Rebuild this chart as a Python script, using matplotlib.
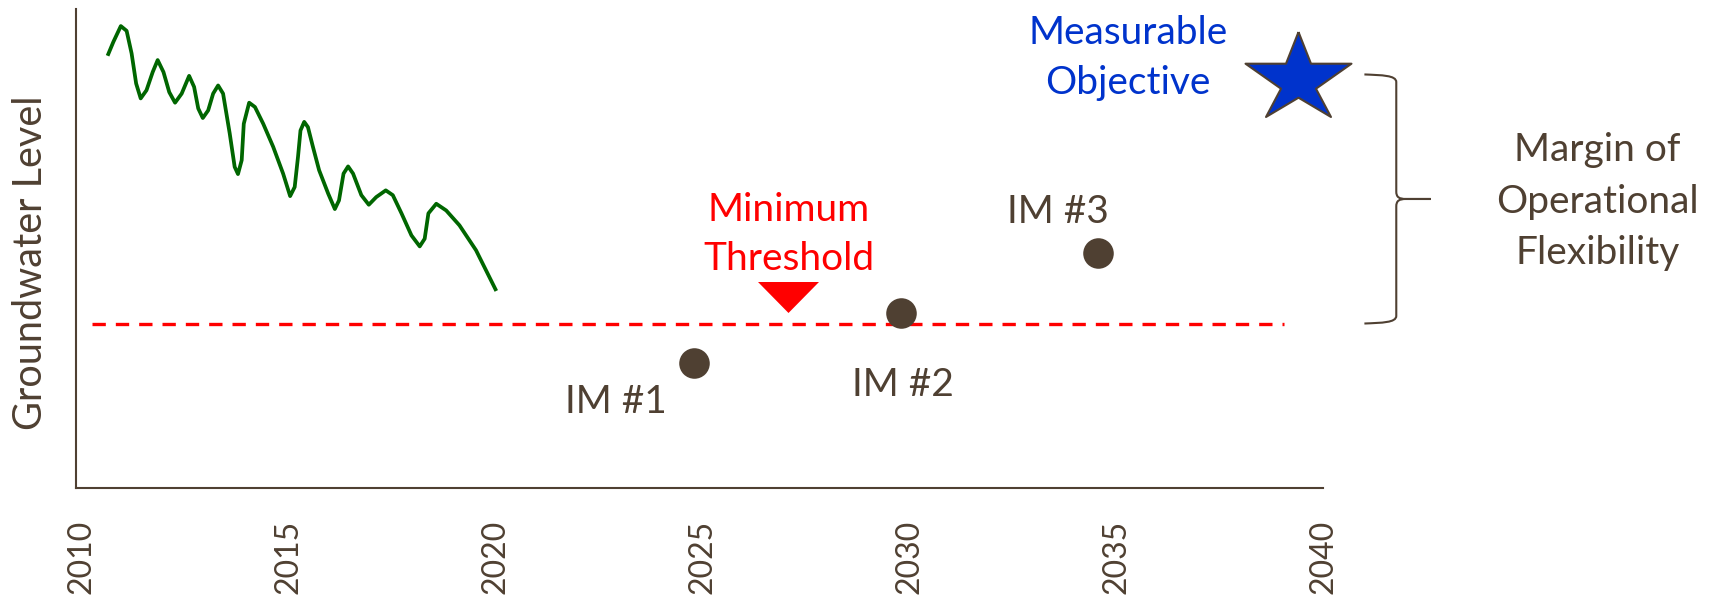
import matplotlib
matplotlib.use("Agg")
import matplotlib.pyplot as plt
from matplotlib.path import Path
from matplotlib.patches import PathPatch

# ---- data -------------------------------------------------------------
# Observed groundwater level record (relative units, 0-100 scale)
hist_years = [2010.64, 2010.78, 2010.96, 2011.10, 2011.22, 2011.33, 2011.44, 2011.58,
              2011.73, 2011.85, 2011.99, 2012.13, 2012.27, 2012.43, 2012.61, 2012.73,
              2012.83, 2012.94, 2013.07, 2013.19, 2013.31, 2013.43, 2013.59, 2013.71,
              2013.79, 2013.88, 2013.93, 2014.06, 2014.20, 2014.40, 2014.64, 2014.88,
              2015.05, 2015.16, 2015.24, 2015.30, 2015.39, 2015.48, 2015.60, 2015.75,
              2015.97, 2016.13, 2016.23, 2016.34, 2016.45, 2016.57, 2016.77, 2016.95,
              2017.13, 2017.36, 2017.53, 2017.74, 2017.98, 2018.18, 2018.30, 2018.39,
              2018.58, 2018.82, 2019.14, 2019.54, 2020.03]
hist_levels = [90.3, 93.2, 96.5, 95.5, 90.8, 84.5, 81.4, 83.1,
               86.9, 89.4, 86.9, 82.7, 80.5, 82.4, 86.1, 83.8,
               79.3, 77.3, 78.9, 82.4, 84.1, 82.4, 74.1, 67.1,
               65.6, 68.5, 76.1, 80.5, 79.6, 76.1, 71.3, 65.7,
               61.0, 62.9, 69.2, 74.7, 76.5, 75.4, 71.3, 66.4,
               61.5, 58.3, 60.1, 65.7, 67.2, 65.7, 61.2, 59.2,
               60.8, 62.2, 61.2, 57.4, 52.8, 50.5, 52.1, 57.4,
               59.4, 58.0, 54.9, 49.7, 41.2]

# Minimum threshold
threshold_level = 34.4
threshold_years = [2010.27, 2039.05]
threshold_marker_year = 2027.08
threshold_marker_level = 40.0

# Measurable objective
objective_year = 2039.4
objective_level = 86.4

# Interim milestones
im_labels = ["IM #1", "IM #2", "IM #3"]
im_years = [2024.81, 2029.81, 2034.56]
im_levels = [26.2, 36.7, 49.1]

tick_years = [2010, 2015, 2020, 2025, 2030, 2035, 2040]
tick_labels = ["2010", "2015", "2020", "2025", "2030", "2035", "2040"]

# ---- style ------------------------------------------------------------
plt.rcParams['font.family'] = ['Lato', 'DejaVu Sans']
BROWN = '#4f4032'
GREEN = '#006600'
RED = '#ff0000'
BLUE = '#0033cc'

fig = plt.figure(figsize=(17.17, 6.03), dpi=100)
ax = fig.add_axes([0.04409, 0.19022, 0.72644, 0.79436])
ax.set_xlim(2009.87, 2039.954)
ax.set_ylim(0, 100)

for side in ('top', 'right'):
    ax.spines[side].set_visible(False)
for side in ('left', 'bottom'):
    ax.spines[side].set_color(BROWN)
    ax.spines[side].set_linewidth(1.5)

ax.set_yticks([])
ax.set_xticks(tick_years, tick_labels, rotation=90, fontsize=23, color=BROWN)
ax.tick_params(axis='x', length=0, pad=23)

fig.text(31 / 1717, 1 - 263 / 603, "Groundwater Level", rotation=90,
         ha='center', va='center', fontsize=28.5, color=BROWN)

# historical record
ax.plot(hist_years, hist_levels, color=GREEN, lw=2.7,
        solid_joinstyle='round', solid_capstyle='butt')

# minimum threshold line and pointer
ax.plot(threshold_years, [threshold_level] * 2, color=RED, lw=2.4,
        linestyle=(0, (4.0, 3.0)))
tri = [(-30.5, 15.5), (30.5, 15.5), (0, -15.5), (-30.5, 15.5)]
ax.plot([threshold_marker_year], [threshold_marker_level], ls='none',
        marker=tri, ms=43.9, mfc=RED, mec=RED, mew=0)
ax.annotate("Minimum", xy=(threshold_marker_year, threshold_marker_level),
            xytext=(0, 76), textcoords='offset pixels', ha='center',
            va='baseline', fontsize=28, color=RED)
ax.annotate("Threshold", xy=(threshold_marker_year, threshold_marker_level),
            xytext=(1, 27), textcoords='offset pixels', ha='center',
            va='baseline', fontsize=28, color=RED)

# interim milestones
ax.plot(im_years, im_levels, ls='none', marker='o', ms=22,
        mfc=BROWN, mec=BROWN, mew=0)
im_offsets = [(-78, -50), (2, -83), (-40, 30)]
for lab, x, y, off in zip(im_labels, im_years, im_levels, im_offsets):
    ax.annotate(lab, xy=(x, y), xytext=off, textcoords='offset pixels',
                ha='center', va='baseline', fontsize=28, color=BROWN)

# measurable objective star
star = [(0, 42.5), (12.5, 10.8), (53, 10.8), (17.5, -14.2), (32.5, -42.5),
        (0, -23.2), (-32.5, -42.5), (-17.5, -14.2), (-53, 10.8), (-12.5, 10.8),
        (0, 42.5)]
ax.plot([objective_year], [objective_level], ls='none', marker=star, ms=76.3,
        mfc=BLUE, mec=BROWN, mew=1.5, clip_on=False)
ax.annotate("Measurable", xy=(objective_year, objective_level),
            xytext=(-170, 30), textcoords='offset pixels', ha='center',
            va='baseline', fontsize=28, color=BLUE, annotation_clip=False)
ax.annotate("Objective", xy=(objective_year, objective_level),
            xytext=(-170, -20), textcoords='offset pixels', ha='center',
            va='baseline', fontsize=28, color=BLUE, annotation_clip=False)

# brace spanning threshold to objective
x0, xv, xt = 2041.0, 2041.77, 2042.6
top, bot = objective_level, threshold_level
mid = (top + bot) / 2
r = 1.6
verts, codes = [], []
for s, end in ((1, top), (-1, bot)):
    verts += [(x0, end),
              (x0 + 0.55 * (xv - x0), end - s * 0.1 * r), (xv, end - s * 0.1 * r), (xv, end - s * r),
              (xv, mid + s * r),
              (xv, mid + s * 0.25 * r), (xv + 0.06, mid), (xv + 0.24, mid),
              (xt, mid)]
    codes += [Path.MOVETO,
              Path.CURVE4, Path.CURVE4, Path.CURVE4,
              Path.LINETO,
              Path.CURVE4, Path.CURVE4, Path.CURVE4,
              Path.LINETO]
ax.add_patch(PathPatch(Path(verts, codes), fill=False, edgecolor=BROWN,
                       lw=1.5, clip_on=False, joinstyle='round'))

margin_lines = ["Margin of", "Operational", "Flexibility"]
for text, dy in zip(margin_lines, (38, -14, -65)):
    ax.annotate(text, xy=(xt, mid), xytext=(167, dy), textcoords='offset pixels',
                ha='center', va='baseline', fontsize=28, color=BROWN,
                annotation_clip=False)

fig.savefig('out.png', dpi=100)
